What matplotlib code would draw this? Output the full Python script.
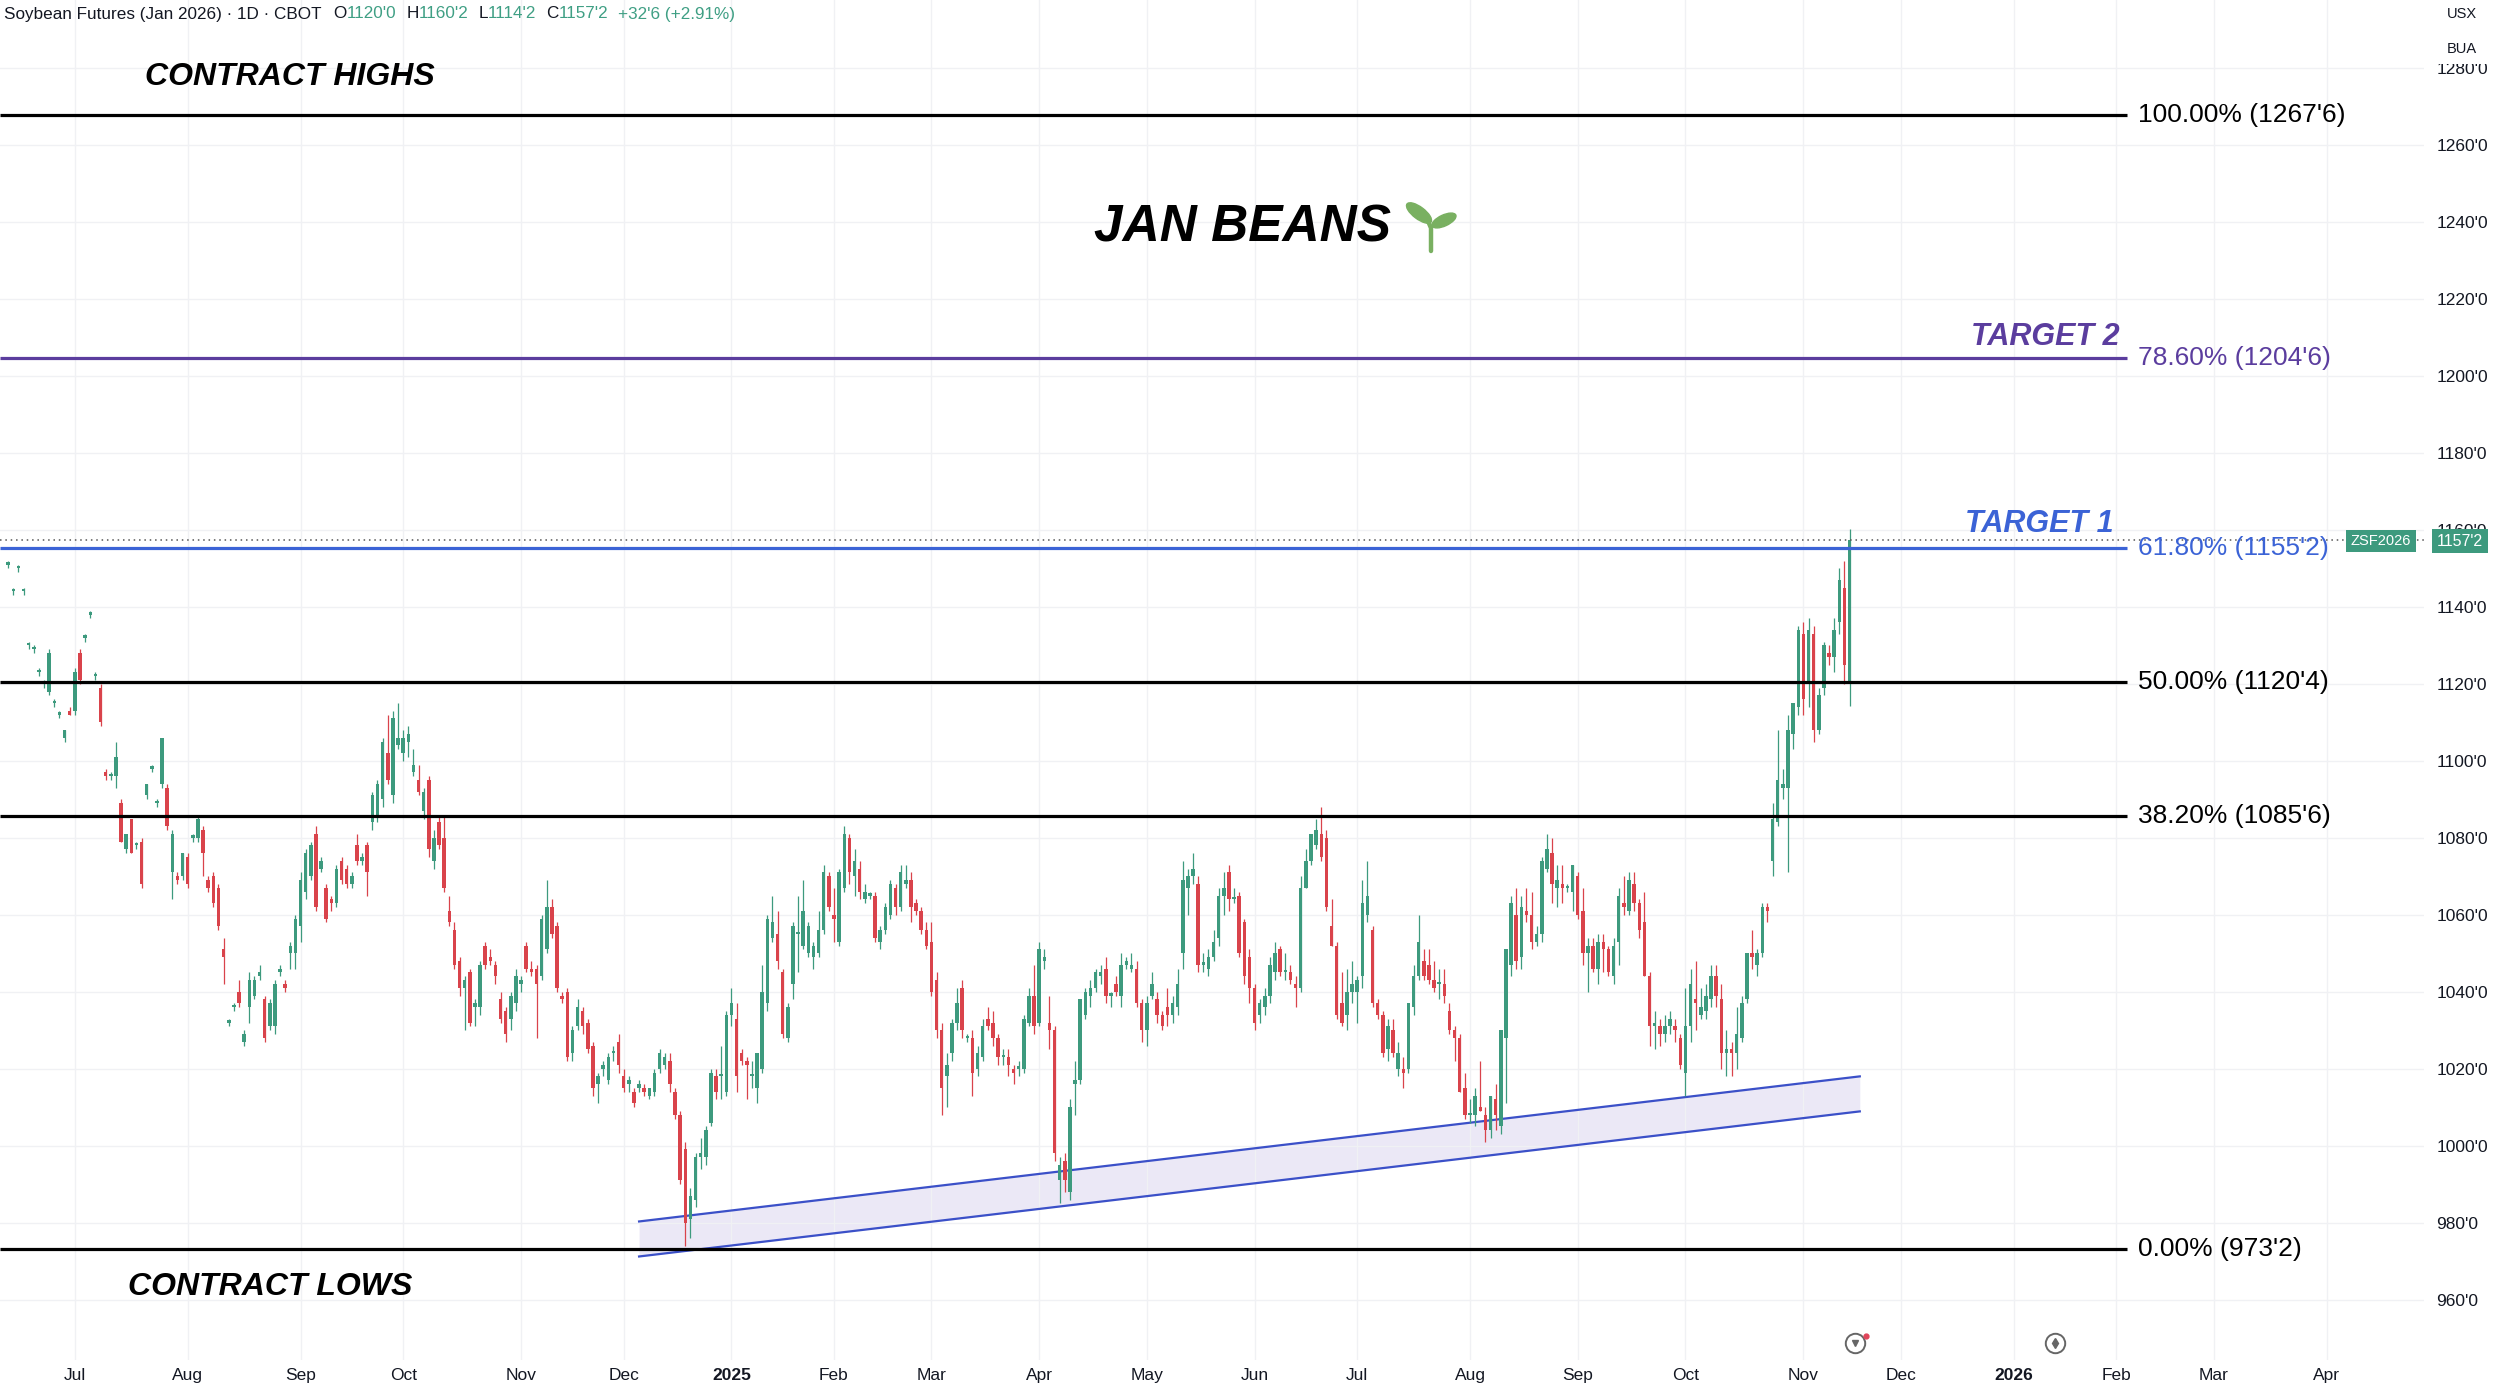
import matplotlib
matplotlib.use('Agg')
import matplotlib.pyplot as plt
from matplotlib.patches import Ellipse, Rectangle
import numpy as np
import pandas as pd

W, H = 2500, 1388

# daily OHLC, ZSF2026, 2024-06-11 .. 2025-11-14
LAST_DATE = '2025-11-14'
HOLIDAYS = ['2024-06-19', '2024-07-04', '2024-09-02', '2024-11-28', '2024-12-25',
            '2025-01-01', '2025-01-09', '2025-01-20', '2025-02-17', '2025-04-18',
            '2025-05-26', '2025-06-19', '2025-07-04', '2025-09-01', '2025-11-27',
            '2025-12-25', '2026-01-01', '2026-01-19', '2026-02-16', '2026-04-03',
            '2026-05-25']

OPENS = [
    1151, 1144, 1150, 1144, 1130, 1129, 1123, 1120, 1118, 1115,
    1112, 1106, 1113, 1113, 1128, 1132, 1138, 1122, 1119, 1097,
    1096, 1096, 1089, 1077, 1085, 1078, 1079, 1091, 1098, 1089,
    1094, 1093, 1071, 1070, 1070, 1075, 1080, 1080, 1082, 1069,
    1070, 1067, 1051, 1032, 1036, 1040, 1027, 1036, 1039, 1044,
    1038, 1031, 1031, 1045, 1042, 1050, 1050, 1057, 1066, 1070,
    1081, 1072, 1067, 1064, 1063, 1074, 1072, 1068, 1078, 1074,
    1078, 1084, 1086, 1090, 1102, 1091, 1104, 1102, 1105, 1097,
    1095, 1087, 1095, 1074, 1084, 1080, 1061, 1056, 1048, 1041,
    1045, 1036, 1036, 1052, 1049, 1047, 1038, 1035, 1033, 1037,
    1042, 1052, 1046, 1046, 1044, 1051, 1062, 1057, 1039, 1040,
    1024, 1031, 1035, 1032, 1026, 1016, 1020, 1017, 1024, 1027,
    1018, 1016, 1014, 1015, 1015, 1013, 1014, 1020, 1021, 1022,
    1014, 1008, 999, 981, 986, 997, 997, 1006, 1018, 1018,
    1014, 1034, 1033, 1024, 1022, 1018, 1015, 1020, 1037, 1054,
    1055, 1045, 1028, 1042, 1055, 1052, 1050, 1049, 1050, 1056,
    1070, 1060, 1053, 1067, 1080, 1070, 1072, 1064, 1065, 1065,
    1053, 1056, 1060, 1067, 1062, 1068, 1069, 1063, 1061, 1056,
    1053, 1043, 1030, 1018, 1024, 1032, 1041, 1028, 1028, 1020,
    1023, 1033, 1032, 1028, 1023, 1023, 1020, 1020, 1020, 1032,
    1039, 1032, 1048, 1032, 1030, 991, 996, 988, 1016, 1017,
    1034, 1039, 1041, 1044, 1046, 1039, 1042, 1039, 1047, 1046,
    1046, 1037, 1030, 1039, 1038, 1034, 1036, 1034, 1036, 1050,
    1067, 1070, 1068, 1047, 1046, 1049, 1054, 1065, 1071, 1064,
    1065, 1058, 1049, 1041, 1034, 1036, 1039, 1045, 1051, 1045,
    1045, 1042, 1041, 1067, 1074, 1078, 1081, 1080, 1057, 1052,
    1037, 1034, 1040, 1040, 1044, 1060, 1056, 1037, 1034, 1025,
    1030, 1020, 1020, 1020, 1036, 1044, 1048, 1047, 1043, 1042,
    1042, 1035, 1030, 1028, 1015, 1008, 1008, 1010, 1008, 1004,
    1012, 1005, 1028, 1047, 1060, 1049, 1061, 1060, 1053, 1055,
    1072, 1076, 1067, 1068, 1067, 1066, 1070, 1061, 1050, 1052,
    1046, 1053, 1051, 1044, 1053, 1063, 1061, 1068, 1063, 1058,
    1044, 1031, 1031, 1029, 1031, 1031, 1028, 1019, 1031, 1038,
    1034, 1035, 1038, 1044, 1038, 1024, 1025, 1024, 1028, 1038,
    1050, 1047, 1050, 1062, 1074, 1084, 1093, 1093, 1107, 1114,
    1133, 1120, 1133, 1108, 1119, 1128, 1127, 1136, 1145, 1120,
]
HIGHS = [
    1152, 1145, 1151, 1145, 1131, 1130, 1124, 1121, 1129, 1116,
    1113, 1108, 1114, 1124, 1129, 1133, 1139, 1123, 1120, 1098,
    1097, 1105, 1090, 1081, 1085, 1079, 1080, 1094, 1099, 1090,
    1106, 1094, 1082, 1071, 1076, 1076, 1081, 1086, 1083, 1070,
    1071, 1068, 1054, 1033, 1037, 1043, 1030, 1045, 1044, 1047,
    1039, 1038, 1043, 1047, 1043, 1053, 1060, 1071, 1077, 1079,
    1083, 1075, 1068, 1065, 1073, 1075, 1073, 1071, 1081, 1076,
    1079, 1092, 1095, 1106, 1112, 1113, 1115, 1108, 1109, 1103,
    1099, 1093, 1096, 1082, 1086, 1086, 1065, 1058, 1049, 1044,
    1046, 1038, 1048, 1053, 1051, 1048, 1040, 1036, 1040, 1046,
    1044, 1053, 1048, 1047, 1060, 1069, 1064, 1058, 1040, 1041,
    1031, 1038, 1036, 1033, 1027, 1019, 1022, 1024, 1026, 1029,
    1020, 1018, 1015, 1017, 1016, 1015, 1020, 1025, 1024, 1024,
    1015, 1009, 1001, 989, 998, 1002, 1005, 1020, 1020, 1026,
    1035, 1041, 1037, 1025, 1023, 1022, 1024, 1047, 1060, 1065,
    1061, 1046, 1037, 1058, 1065, 1069, 1058, 1053, 1061, 1073,
    1071, 1067, 1072, 1083, 1081, 1077, 1074, 1068, 1066, 1066,
    1057, 1063, 1069, 1068, 1073, 1073, 1071, 1064, 1062, 1058,
    1058, 1045, 1032, 1024, 1033, 1041, 1043, 1029, 1030, 1026,
    1033, 1036, 1035, 1029, 1025, 1025, 1021, 1022, 1034, 1041,
    1047, 1053, 1051, 1039, 1031, 997, 998, 1012, 1022, 1038,
    1041, 1043, 1046, 1047, 1049, 1040, 1044, 1050, 1049, 1050,
    1048, 1038, 1039, 1045, 1040, 1035, 1041, 1039, 1046, 1074,
    1072, 1076, 1070, 1050, 1051, 1056, 1067, 1071, 1073, 1067,
    1066, 1059, 1051, 1042, 1038, 1041, 1049, 1053, 1052, 1050,
    1047, 1044, 1070, 1077, 1081, 1085, 1088, 1082, 1064, 1053,
    1045, 1046, 1048, 1044, 1069, 1074, 1057, 1038, 1035, 1033,
    1033, 1027, 1023, 1037, 1047, 1060, 1051, 1051, 1048, 1046,
    1046, 1037, 1031, 1029, 1019, 1012, 1015, 1022, 1010, 1013,
    1016, 1030, 1051, 1065, 1067, 1065, 1067, 1066, 1057, 1075,
    1081, 1080, 1073, 1073, 1068, 1073, 1071, 1067, 1054, 1054,
    1055, 1055, 1052, 1054, 1067, 1070, 1071, 1071, 1064, 1066,
    1045, 1035, 1033, 1034, 1035, 1033, 1029, 1041, 1046, 1048,
    1041, 1042, 1047, 1047, 1042, 1030, 1027, 1036, 1039, 1050,
    1056, 1051, 1063, 1063, 1089, 1108, 1098, 1112, 1115, 1135,
    1136, 1137, 1135, 1119, 1131, 1130, 1137, 1150, 1152, 1160.25,
]
LOWS = [
    1150, 1143, 1149, 1143, 1129, 1128, 1122, 1119, 1117, 1114,
    1111, 1105, 1112, 1112, 1120, 1131, 1137, 1121, 1109, 1095,
    1095, 1093, 1079, 1076, 1076, 1077, 1067, 1090, 1097, 1088,
    1093, 1082, 1064, 1068, 1069, 1067, 1079, 1079, 1070, 1066,
    1062, 1056, 1042, 1031, 1035, 1036, 1026, 1032, 1038, 1043,
    1027, 1030, 1029, 1044, 1040, 1046, 1046, 1053, 1064, 1069,
    1061, 1071, 1058, 1061, 1062, 1068, 1067, 1067, 1073, 1073,
    1065, 1082, 1084, 1088, 1094, 1089, 1103, 1100, 1101, 1096,
    1091, 1085, 1075, 1072, 1077, 1066, 1057, 1046, 1039, 1030,
    1031, 1031, 1034, 1046, 1047, 1042, 1032, 1027, 1030, 1035,
    1040, 1045, 1044, 1028, 1043, 1050, 1054, 1040, 1037, 1022,
    1022, 1030, 1029, 1024, 1013, 1011, 1018, 1016, 1022, 1019,
    1014, 1014, 1010, 1014, 1013, 1012, 1013, 1019, 1020, 1014,
    1007, 990, 974, 976, 984, 994, 995, 1005, 1012, 1012,
    1013, 1031, 1014, 1021, 1012, 1015, 1011, 1019, 1035, 1053,
    1046, 1028, 1027, 1038, 1045, 1051, 1049, 1046, 1049, 1055,
    1061, 1053, 1052, 1066, 1068, 1065, 1064, 1063, 1064, 1053,
    1051, 1055, 1059, 1060, 1061, 1067, 1058, 1060, 1055, 1051,
    1039, 1028, 1008, 1010, 1022, 1030, 1028, 1027, 1013, 1018,
    1022, 1030, 1026, 1021, 1021, 1018, 1016, 1018, 1019, 1031,
    1029, 1031, 1046, 1025, 996, 985, 988, 986, 1008, 1016,
    1033, 1036, 1040, 1042, 1037, 1036, 1039, 1036, 1046, 1045,
    1036, 1027, 1026, 1038, 1032, 1030, 1031, 1032, 1034, 1046,
    1060, 1068, 1045, 1045, 1044, 1048, 1052, 1060, 1061, 1063,
    1049, 1042, 1037, 1030, 1032, 1034, 1037, 1043, 1044, 1043,
    1042, 1036, 1040, 1067, 1073, 1077, 1074, 1061, 1052, 1033,
    1031, 1030, 1037, 1032, 1041, 1058, 1036, 1033, 1023, 1022,
    1023, 1018, 1015, 1019, 1034, 1043, 1043, 1042, 1040, 1038,
    1037, 1029, 1022, 1014, 1007, 1006, 1005, 1009, 1001, 1002,
    1004, 1003, 1011, 1044, 1046, 1046, 1058, 1051, 1052, 1053,
    1071, 1063, 1062, 1063, 1066, 1061, 1059, 1047, 1040, 1045,
    1042, 1045, 1044, 1042, 1047, 1060, 1060, 1061, 1054, 1044,
    1026, 1025, 1026, 1027, 1029, 1027, 1020, 1013, 1027, 1030,
    1033, 1033, 1036, 1036, 1020, 1018, 1018, 1020, 1027, 1037,
    1046, 1044, 1049, 1058, 1070, 1083, 1090, 1071, 1103, 1112,
    1112, 1114, 1105, 1107, 1117, 1125, 1123, 1133, 1120, 1114.25,
]
CLOSES = [
    1151, 1144, 1150, 1144, 1130, 1129, 1123, 1120, 1128, 1115,
    1112, 1108, 1112, 1123, 1121, 1132, 1138, 1122, 1110, 1096,
    1096, 1101, 1079, 1081, 1076, 1078, 1068, 1094, 1098, 1089,
    1106, 1083, 1081, 1069, 1076, 1068, 1080, 1085, 1076, 1067,
    1063, 1057, 1049, 1032, 1036, 1037, 1029, 1043, 1043, 1045,
    1028, 1037, 1042, 1046, 1041, 1052, 1059, 1069, 1076, 1078,
    1062, 1074, 1059, 1063, 1072, 1069, 1068, 1070, 1074, 1075,
    1071, 1091, 1094, 1105, 1095, 1111, 1106, 1106, 1107, 1099,
    1092, 1092, 1077, 1080, 1078, 1067, 1058, 1047, 1041, 1043,
    1032, 1037, 1047, 1047, 1048, 1044, 1033, 1029, 1039, 1044,
    1043, 1046, 1045, 1042, 1059, 1062, 1055, 1041, 1038, 1023,
    1030, 1036, 1031, 1025, 1015, 1018, 1021, 1023, 1024, 1021,
    1015, 1017, 1011, 1016, 1014, 1015, 1019, 1024, 1023, 1016,
    1008, 991, 980, 987, 997, 998, 1004, 1019, 1014, 1018,
    1034, 1037, 1018, 1022, 1021, 1018, 1024, 1040, 1059, 1058,
    1048, 1029, 1036, 1057, 1055, 1061, 1057, 1052, 1056, 1071,
    1062, 1059, 1071, 1081, 1071, 1074, 1066, 1066, 1065, 1054,
    1056, 1062, 1068, 1062, 1071, 1069, 1062, 1061, 1056, 1052,
    1040, 1030, 1015, 1021, 1032, 1037, 1030, 1028, 1019, 1024,
    1031, 1031, 1028, 1023, 1023, 1021, 1019, 1020, 1033, 1039,
    1031, 1051, 1049, 1030, 998, 995, 991, 1010, 1017, 1038,
    1040, 1041, 1045, 1045, 1039, 1039, 1040, 1047, 1048, 1047,
    1037, 1030, 1037, 1042, 1034, 1031, 1034, 1037, 1042, 1069,
    1070, 1072, 1047, 1047, 1049, 1053, 1065, 1067, 1064, 1064,
    1050, 1044, 1041, 1032, 1037, 1039, 1047, 1050, 1045, 1045,
    1043, 1041, 1067, 1074, 1081, 1082, 1075, 1062, 1052, 1034,
    1032, 1040, 1042, 1043, 1063, 1065, 1037, 1034, 1024, 1031,
    1024, 1024, 1019, 1037, 1044, 1053, 1044, 1043, 1041, 1042,
    1039, 1030, 1028, 1014, 1008, 1008, 1013, 1009, 1004, 1013,
    1008, 1030, 1051, 1063, 1048, 1062, 1060, 1053, 1055, 1074,
    1077, 1068, 1069, 1067, 1067, 1073, 1060, 1050, 1052, 1046,
    1053, 1051, 1045, 1052, 1065, 1062, 1069, 1063, 1056, 1044,
    1031, 1032, 1029, 1031, 1033, 1030, 1021, 1031, 1042, 1037,
    1036, 1039, 1044, 1039, 1024, 1025, 1024, 1029, 1037, 1050,
    1049, 1050, 1062, 1061, 1085, 1095, 1094, 1108, 1115, 1134,
    1116, 1134, 1108, 1117, 1130, 1127, 1134, 1147, 1125, 1157.25,
]
LAST_PRICE = 1157.25

# fibonacci retracement levels
FIB_PCT = ['100.00%', '78.60%', '61.80%', '50.00%', '38.20%', '0.00%']
FIB_PRICES = [1267.75, 1204.75, 1155.25, 1120.5, 1085.75, 973.25]
FIB_TICKS = ["1267'6", "1204'6", "1155'2", "1120'4", "1085'6", "973'2"]
FIB_COLORS = ['#000000', '#5b3d9e', '#3b63d6', '#000000', '#000000', '#000000']
FIB_END = '2026-02-04'

# rising support channel
CHANNEL_DATES = ['2024-12-05', '2025-11-18']
CHANNEL_UPPER = [980.3, 1018.0]
CHANNEL_LOWER = [971.2, 1008.9]

UP = '#3d9a7e'
DOWN = '#d9434b'
TXT = '#131722'

plt.rcParams['font.family'] = ['Liberation Sans', 'DejaVu Sans']

# trading-day calendar: bars are placed by index, like TradingView
days = pd.bdate_range(end=LAST_DATE, periods=len(CLOSES), freq='C', holidays=HOLIDAYS)
future = pd.bdate_range(start=LAST_DATE, end='2026-06-30', freq='C', holidays=HOLIDAYS)[1:]
cal = days.append(future)
pos = pd.Series(np.arange(len(cal)), index=cal)

fig = plt.figure(figsize=(W / 100, H / 100), dpi=100)
ax = fig.add_axes([0, 28 / H, 2424 / W, 1 - 28 / H])
x_left, x_right = -1.6, 471

# month ticks
firsts = pos.groupby([cal.year, cal.month]).first()
tick_pos, tick_lab = [], []
for (yr, mo), i in firsts.items():
    if (yr, mo) < (2024, 7) or i > x_right:
        continue
    tick_pos.append(i)
    tick_lab.append(str(yr) if mo == 1 else pd.Timestamp(yr, mo, 1).strftime('%b'))
ax.set_xticks(tick_pos)
ax.set_xticklabels(tick_lab)
for lab in ax.get_xticklabels():
    if lab.get_text().isdigit():
        lab.set_fontweight('bold')

yt = np.arange(960, 1281, 20)
ax.set_yticks(yt)
ax.set_yticklabels([f"{v}'0" for v in yt])
ax.set_xlim(x_left, x_right)
ax.set_ylim(944.3, 1297.7)
ax.yaxis.tick_right()
ax.tick_params(axis='y', length=0, pad=9, labelsize=12.5, labelcolor=TXT)
ax.tick_params(axis='x', length=0, pad=6, labelsize=12.5, labelcolor=TXT)
ax.grid(True, color='#f0f1f4', lw=1.0, zorder=0)
for s in ax.spines.values():
    s.set_visible(False)

# channel
cx = [pos[pd.Timestamp(d)] for d in CHANNEL_DATES]
ax.fill_between(cx, CHANNEL_LOWER, CHANNEL_UPPER, color='#ebe8f6', lw=0, zorder=1)
ax.plot(cx, CHANNEL_UPPER, color='#3b50c8', lw=1.6, zorder=2)
ax.plot(cx, CHANNEL_LOWER, color='#3b50c8', lw=1.6, zorder=2)

# candles
o = np.array(OPENS, float)
h = np.array(HIGHS, float)
l = np.array(LOWS, float)
c = np.array(CLOSES, float)
x = np.arange(len(c))
cols = np.where(c >= o, UP, DOWN)
ax.vlines(x, l, h, colors=cols, lw=0.9, zorder=3)
body = np.maximum(np.abs(c - o), 0.6)
ax.bar(x, body, bottom=np.minimum(o, c), width=0.68, color=cols, lw=0, zorder=3)

# fib levels
fx = pos[pd.Timestamp(FIB_END)]
for p, pct, tk, col in zip(FIB_PRICES, FIB_PCT, FIB_TICKS, FIB_COLORS):
    ax.hlines(p, x_left, fx, color=col, lw=2.3, zorder=4)
    ax.annotate(f'{pct} ({tk})', xy=(fx, p), xytext=(8, 0), textcoords='offset points',
                va='center', ha='left', fontsize=19, color=col, zorder=5)

# last price dotted line
ax.axhline(LAST_PRICE, color='#555555', lw=1.1, ls=(0, (1, 2.5)), zorder=4)

# bottom icons
for ix, sym in [(360, 'v'), (399, 'd')]:
    ax.plot(ix, 948.8, 'o', ms=14, mfc='white', mec='#666666', mew=1.4, zorder=5, clip_on=False)
    ax.plot(ix, 948.8, sym, ms=5, color='#666666', zorder=6, clip_on=False)
ax.plot(362.2, 950.6, 'o', ms=3.5, color='#e0455a', zorder=7, clip_on=False)


def px(xp, yp):
    return xp / W, 1 - yp / H


# annotations
kw = dict(fontweight='bold', fontstyle='italic', va='center')
fig.text(*px(145, 77), 'CONTRACT HIGHS', ha='left', fontsize=23, color='black', **kw)
fig.text(*px(128, 1287), 'CONTRACT LOWS', ha='left', fontsize=23, color='black', **kw)
fig.text(*px(1094, 228), 'JAN BEANS', ha='left', fontsize=37, color='black', **kw)
fig.text(*px(2120, 337), 'TARGET 2', ha='right', fontsize=22, color='#5b3d9e', **kw)
fig.text(*px(2114, 524), 'TARGET 1', ha='right', fontsize=22, color='#3b63d6', **kw)

# seedling next to the title
sa = fig.add_axes([1400 / W, 1 - 255 / H, 60 / W, 60 / H])
sa.set_xlim(1400, 1460)
sa.set_ylim(0, 60)
sa.axis('off')
leaf = '#79b061'
sa.add_patch(Ellipse((1419, 42), 30, 12, angle=143, color=leaf))
sa.add_patch(Ellipse((1444, 34.5), 26, 11, angle=25, color=leaf))
sa.plot([1431, 1431, 1428], [4, 27, 34], color=leaf, lw=3.2, solid_capstyle='round')

# header line
renderer = fig.canvas.get_renderer()
green = '#3f9f84'
pieces = [("Soybean Futures (Jan 2026) · 1D · CBOT", TXT, 12),
          ("O", TXT, 0), ("1120'0", green, 10), ("H", TXT, 0), ("1160'2", green, 10),
          ("L", TXT, 0), ("1114'2", green, 10), ("C", TXT, 0), ("1157'2", green, 10),
          ("+32'6 (+2.91%)", green, 0)]
xh = 4
for s, col, gap in pieces:
    t = fig.text(*px(xh, 14), s, color=col, fontsize=12.3, va='center', ha='left')
    xh += t.get_window_extent(renderer).width + gap

# price scale overlays
fig.patches.append(Rectangle((2426 / W, 1 - 64 / H), 74 / W, 64 / H,
                             transform=fig.transFigure, fc='white', ec='none', zorder=5))
fig.text(*px(2462, 14), 'USX', ha='center', va='center', fontsize=10.5, color=TXT, zorder=6)
fig.text(*px(2462, 49), 'BUA', ha='center', va='center', fontsize=10.5, color=TXT, zorder=6)
fig.text(*px(2381, 541), 'ZSF2026', ha='center', va='center', fontsize=10.5, color='white',
         bbox=dict(boxstyle='square,pad=0.3', fc=UP, ec='none'))
fig.text(*px(2460, 541), "1157'2", ha='center', va='center', fontsize=11.5, color='white',
         bbox=dict(boxstyle='square,pad=0.3', fc=UP, ec='none'))

fig.savefig('out.png', dpi=100)
